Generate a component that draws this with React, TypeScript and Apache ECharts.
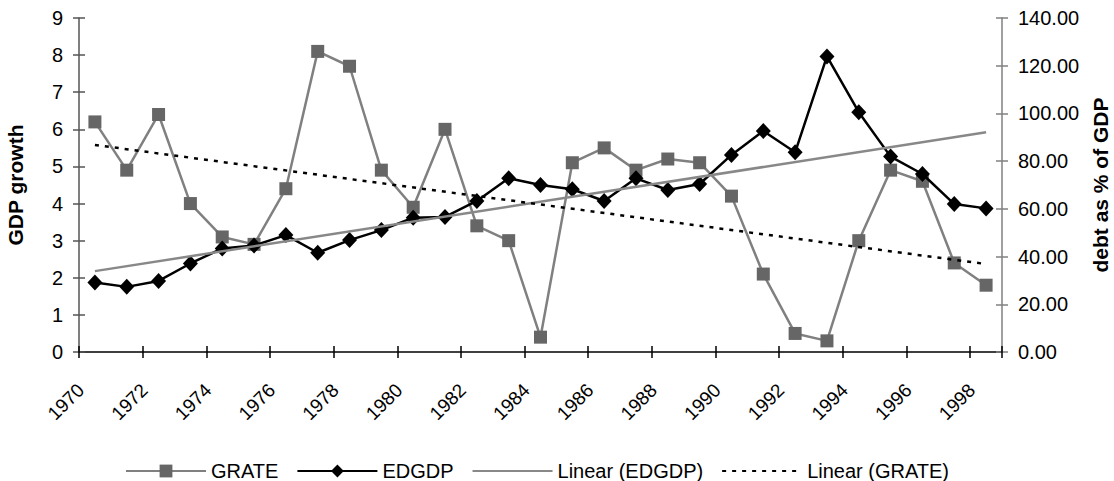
import React, { useEffect, useRef } from "react";
import * as echarts from "echarts";

const years: string[] = [
  "1970", "1971", "1972", "1973", "1974", "1975", "1976", "1977", "1978", "1979",
  "1980", "1981", "1982", "1983", "1984", "1985", "1986", "1987", "1988", "1989",
  "1990", "1991", "1992", "1993", "1994", "1995", "1996", "1997", "1998",
];

// GDP growth (left axis)
const grate: number[] = [
  6.2, 4.9, 6.4, 4.0, 3.1, 2.9, 4.4, 8.1, 7.7, 4.9,
  3.9, 6.0, 3.4, 3.0, 0.4, 5.1, 5.5, 4.9, 5.2, 5.1,
  4.2, 2.1, 0.5, 0.3, 3.0, 4.9, 4.6, 2.4, 1.8,
];

// debt as % of GDP (right axis)
const edgdp: number[] = [
  29.1, 27.3, 29.8, 37.1, 43.4, 44.6, 49.0, 41.6, 46.9, 51.1,
  56.3, 56.6, 63.3, 72.8, 70.0, 68.2, 63.3, 72.8, 67.9, 70.4,
  82.6, 92.6, 83.7, 123.9, 100.5, 81.9, 74.6, 62.0, 60.2,
];

// trend line end points
const trendEdgdpEnds: number[] = [33.9, 92.1];
const trendGrateEnds: number[] = [5.58, 2.37];

const FONT = "'Liberation Sans', Arial, sans-serif";
const CLEAR = "rgba(0,0,0,0)";

export default function App() {
  const ref = useRef<HTMLDivElement>(null);
  useEffect(() => {
    if (!ref.current) return;
    const chart = echarts.init(ref.current, undefined, { renderer: "svg" });
    const last = years.length - 1;
    chart.setOption({
      animation: false,
      backgroundColor: "#ffffff",
      textStyle: { fontFamily: FONT },
      grid: {
        left: 79,
        right: 112,
        top: 18,
        bottom: 129,
        containLabel: false,
        outerBoundsMode: "none",
      },
      legend: {
        left: 120,
        top: 456,
        itemWidth: 80,
        itemHeight: 16,
        itemGap: 18,
        textStyle: { fontSize: 20, color: "#000", fontFamily: FONT },
        data: [
          { name: "GRATE" },
          { name: "EDGDP" },
          { name: "Linear (EDGDP)", itemStyle: { color: CLEAR, borderWidth: 0 } },
          { name: "Linear (GRATE)", itemStyle: { color: CLEAR, borderWidth: 0 } },
        ],
      },
      xAxis: [
        {
          type: "category",
          data: years,
          boundaryGap: true,
          position: "bottom",
          axisLine: { lineStyle: { color: "#000", width: 1.5 } },
          axisTick: { show: true, length: 6, inside: false, lineStyle: { color: "#000", width: 1.5 } },
          axisLabel: {
            interval: 1,
            rotate: 45,
            fontSize: 19,
            color: "#000",
            fontFamily: FONT,
            align: "right",
            verticalAlign: "bottom",
            lineHeight: 40,
            margin: 49,
          },
          splitLine: { show: false },
        },
        {
          type: "category",
          data: years,
          boundaryGap: true,
          position: "bottom",
          axisLine: { show: false },
          axisTick: { show: true, length: 6, inside: true, lineStyle: { color: "#000", width: 1.5 } },
          axisLabel: { show: false },
          splitLine: { show: false },
        },
      ],
      yAxis: [
        {
          type: "value",
          min: 0,
          max: 9,
          interval: 1,
          position: "left",
          name: "GDP growth",
          nameLocation: "middle",
          nameRotate: 90,
          nameGap: 53,
          nameTextStyle: { fontSize: 21, fontWeight: "bold", color: "#000", fontFamily: FONT },
          axisLine: { show: true, lineStyle: { color: "#555", width: 1.5 } },
          axisTick: { show: true, length: 6, lineStyle: { color: "#555", width: 1.5 } },
          axisLabel: { fontSize: 20, color: "#000", margin: 16, fontFamily: FONT },
          splitLine: { show: false },
        },
        {
          type: "value",
          min: 0,
          max: 140,
          interval: 20,
          position: "right",
          name: "debt as % of GDP",
          nameLocation: "middle",
          nameRotate: 90,
          nameGap: 86,
          nameTextStyle: { fontSize: 21, fontWeight: "bold", color: "#000", fontFamily: FONT },
          axisLine: { show: true, lineStyle: { color: "#808080", width: 1.5 } },
          axisTick: { show: true, length: 6, lineStyle: { color: "#808080", width: 1.5 } },
          axisLabel: {
            fontSize: 20,
            color: "#000",
            margin: 16,
            fontFamily: FONT,
            formatter: (v: number) => v.toFixed(2),
          },
          splitLine: { show: false },
        },
        {
          type: "value",
          min: 0,
          max: 9,
          interval: 1,
          position: "left",
          axisLine: { show: false },
          axisTick: { show: true, inside: true, length: 6, lineStyle: { color: "#555", width: 1.5 } },
          axisLabel: { show: false },
          splitLine: { show: false },
        },
        {
          type: "value",
          min: 0,
          max: 140,
          interval: 20,
          position: "right",
          axisLine: { show: false },
          axisTick: { show: true, inside: true, length: 6, lineStyle: { color: "#808080", width: 1.5 } },
          axisLabel: { show: false },
          splitLine: { show: false },
        },
      ],
      series: [
        {
          name: "GRATE",
          type: "line",
          yAxisIndex: 0,
          data: grate,
          symbol: "rect",
          symbolSize: 13,
          showAllSymbol: true,
          itemStyle: { color: "#666666", borderWidth: 0 },
          lineStyle: { color: "#808080", width: 2.5 },
          z: 2,
        },
        {
          name: "EDGDP",
          type: "line",
          yAxisIndex: 1,
          data: edgdp,
          symbol: "diamond",
          symbolSize: [15, 16],
          showAllSymbol: true,
          itemStyle: { color: "#000000", borderWidth: 0 },
          lineStyle: { color: "#000000", width: 2.5 },
          z: 3,
        },
        {
          name: "Linear (EDGDP)",
          type: "line",
          yAxisIndex: 1,
          data: [
            [0, trendEdgdpEnds[0]],
            [last, trendEdgdpEnds[1]],
          ],
          symbol: "none",
          itemStyle: { color: "#888888" },
          lineStyle: { color: "#888888", width: 2.5 },
          z: 4,
        },
        {
          name: "Linear (GRATE)",
          type: "line",
          yAxisIndex: 0,
          data: [
            [0, trendGrateEnds[0]],
            [last, trendGrateEnds[1]],
          ],
          symbol: "none",
          itemStyle: { color: "#000000" },
          lineStyle: { color: "#000000", width: 2.5, type: [4, 6] },
          z: 5,
        },
      ],
    });
    return () => chart.dispose();
  }, []);
  return (
    <div
      ref={ref}
      style={{ position: "fixed", left: 0, top: 0, width: "1114px", height: "481px", background: "#fff" }}
    />
  );
}
